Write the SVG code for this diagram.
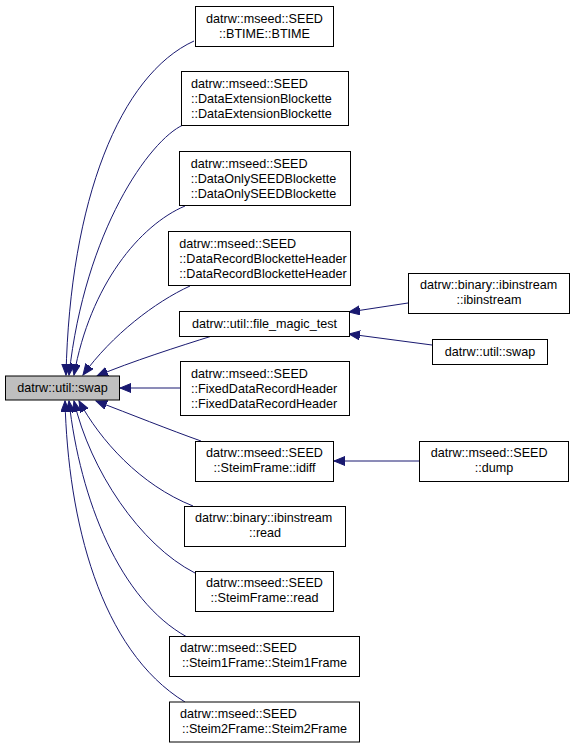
<svg xmlns="http://www.w3.org/2000/svg" width="575" height="748" viewBox="0 0 575 748">
<style>
  .box { fill: #ffffff; stroke: #000000; stroke-width: 1; }
  .main { fill: #bfbfbf; stroke: #000000; stroke-width: 1; }
  text { font-family: "Liberation Sans", Arial, Helvetica, sans-serif; font-size: 12.6px; fill: #000000; }
  .m { text-anchor: middle; }
  .edge { fill: none; stroke: #191970; stroke-width: 1; marker-end: url(#arr); }
</style>
<defs>
  <marker id="arr" markerUnits="userSpaceOnUse" markerWidth="12" markerHeight="10" refX="11" refY="4.5" orient="auto">
    <path d="M0,0 L11,4.5 L0,9 Z" fill="#191970" stroke="#191970" stroke-width="1"/>
  </marker>
</defs>
<rect width="575" height="748" fill="#ffffff"/>
<g id="connectors">
  <path class="edge" d="M194,41 C120,75 70,200 66,375"/>
  <path class="edge" d="M183,125 C150,140 85,230 69,375"/>
  <path class="edge" d="M185,206 C140,225 90,285 74,375"/>
  <path class="edge" d="M190,286 C155,302 112,335 83,375"/>
  <path class="edge" d="M212,336 C180,346 130,362 97,376"/>
  <path class="edge" d="M180,388 L120,388"/>
  <path class="edge" d="M201,441 C170,430 130,414 96,401"/>
  <path class="edge" d="M193,506 C140,485 100,440 79,401"/>
  <path class="edge" d="M195,573 C140,545 90,470 74,401"/>
  <path class="edge" d="M187,637 C120,600 80,500 69,401"/>
  <path class="edge" d="M185,702 C100,650 68,520 65,401"/>
  <path class="edge" d="M408,303 L349,312"/>
  <path class="edge" d="M432,345 L349,334"/>
  <path class="edge" d="M419,461 L334,461"/>
</g>
<g id="n_main">
  <rect class="main" x="5.5" y="376" width="114" height="24"/>
  <text class="m" x="62.5" y="392.2">datrw::util::swap</text>
</g>
<g id="n_btime">
  <rect class="box" x="195.5" y="6.5" width="138" height="40"/>
  <text x="206" y="22.7">datrw::mseed::SEED</text>
  <text class="m" x="264.5" y="37.7">::BTIME::BTIME</text>
</g>
<g id="n_dataext">
  <rect class="box" x="181.5" y="71.5" width="167" height="54"/>
  <text x="191" y="87.7">datrw::mseed::SEED</text>
  <text x="191" y="102.7">::DataExtensionBlockette</text>
  <text x="191" y="117.7">::DataExtensionBlockette</text>
</g>
<g id="n_dataonly">
  <rect class="box" x="179.5" y="151.5" width="171" height="54"/>
  <text x="190.7" y="167.7">datrw::mseed::SEED</text>
  <text x="190.7" y="182.7">::DataOnlySEEDBlockette</text>
  <text x="190.7" y="197.7">::DataOnlySEEDBlockette</text>
</g>
<g id="n_datarecord">
  <rect class="box" x="168.5" y="231.5" width="182" height="54"/>
  <text x="179.3" y="247.7">datrw::mseed::SEED</text>
  <text x="179.3" y="262.7">::DataRecordBlocketteHeader</text>
  <text x="179.3" y="277.7">::DataRecordBlocketteHeader</text>
</g>
<g id="n_filemagic">
  <rect class="box" x="179.5" y="311.5" width="170" height="25"/>
  <text class="m" x="264.5" y="328.2">datrw::util::file_magic_test</text>
</g>
<g id="n_fixed">
  <rect class="box" x="180.5" y="361.5" width="169" height="54"/>
  <text x="191" y="377.7">datrw::mseed::SEED</text>
  <text x="191" y="392.7">::FixedDataRecordHeader</text>
  <text x="191" y="407.7">::FixedDataRecordHeader</text>
</g>
<g id="n_idiff">
  <rect class="box" x="195.5" y="441.5" width="138" height="40"/>
  <text x="206" y="457.2">datrw::mseed::SEED</text>
  <text class="m" x="264.5" y="472.2">::SteimFrame::idiff</text>
</g>
<g id="n_ibread">
  <rect class="box" x="184.5" y="506.5" width="161" height="40"/>
  <text x="195" y="522.2">datrw::binary::ibinstream</text>
  <text class="m" x="265" y="537.2">::read</text>
</g>
<g id="n_sfread">
  <rect class="box" x="195.5" y="571.5" width="138" height="40"/>
  <text x="206" y="587.2">datrw::mseed::SEED</text>
  <text class="m" x="264.5" y="602.2">::SteimFrame::read</text>
</g>
<g id="n_steim1">
  <rect class="box" x="169.5" y="636.5" width="190" height="40"/>
  <text x="180" y="652.2">datrw::mseed::SEED</text>
  <text class="m" x="264.5" y="667.2">::Steim1Frame::Steim1Frame</text>
</g>
<g id="n_steim2">
  <rect class="box" x="169.5" y="702" width="190" height="40"/>
  <text x="180" y="717.7">datrw::mseed::SEED</text>
  <text class="m" x="264.5" y="732.7">::Steim2Frame::Steim2Frame</text>
</g>
<g id="n_ibctor">
  <rect class="box" x="408.5" y="273.5" width="161" height="40"/>
  <text x="420" y="289.2">datrw::binary::ibinstream</text>
  <text class="m" x="489" y="304.2">::ibinstream</text>
</g>
<g id="n_swap2">
  <rect class="box" x="432.5" y="339.5" width="115" height="25"/>
  <text class="m" x="490" y="356.2">datrw::util::swap</text>
</g>
<g id="n_dump">
  <rect class="box" x="419.5" y="441.5" width="149" height="40"/>
  <text x="430.7" y="457.2">datrw::mseed::SEED</text>
  <text class="m" x="494" y="472.2">::dump</text>
</g>
</svg>
